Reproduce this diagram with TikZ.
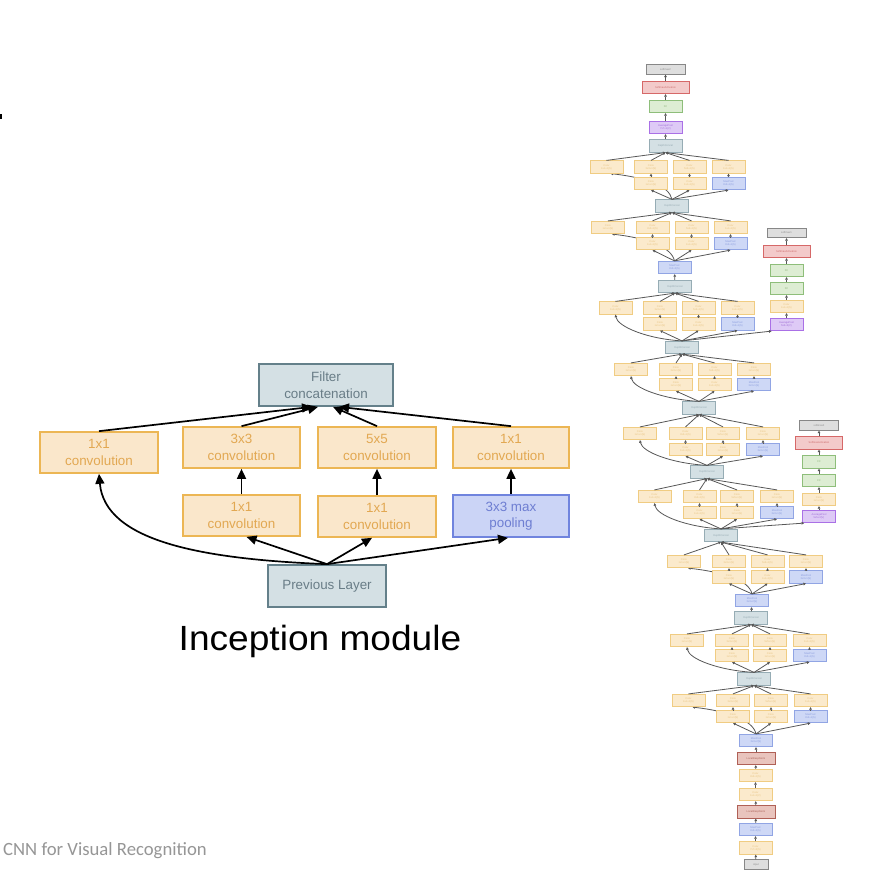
\documentclass[tikz,border=0pt]{standalone}
\usepackage{fontspec}
\newfontfamily\arialf{Liberation Sans}
\newfontfamily\calf{Carlito}
\usetikzlibrary{arrows.meta}
\pgfdeclarelayer{bg}
\pgfsetlayers{bg,main}
% left (large) module colours
\definecolor{convb}{RGB}{236,182,84}
\definecolor{convf}{RGB}{250,231,203}
\definecolor{convt}{RGB}{226,168,82}
\definecolor{poolb}{RGB}{112,132,222}
\definecolor{poolf}{RGB}{203,212,246}
\definecolor{poolt}{RGB}{110,126,210}
\definecolor{catb}{RGB}{100,128,138}
\definecolor{catf}{RGB}{212,224,228}
\definecolor{catt}{RGB}{105,125,135}
% right (small) network colours
\definecolor{sconvb}{RGB}{240,204,130}
\definecolor{sconvf}{RGB}{251,234,204}
\definecolor{sconvt}{RGB}{232,196,130}
\definecolor{spoolb}{RGB}{145,165,228}
\definecolor{spoolf}{RGB}{206,216,246}
\definecolor{spoolt}{RGB}{140,158,222}
\definecolor{scatb}{RGB}{150,172,180}
\definecolor{scatf}{RGB}{212,224,228}
\definecolor{scatt}{RGB}{150,170,178}
\definecolor{ssmb}{RGB}{135,135,135}
\definecolor{ssmf}{RGB}{222,222,222}
\definecolor{ssmt}{RGB}{140,140,140}
\definecolor{ssmab}{RGB}{214,104,104}
\definecolor{ssmaf}{RGB}{243,202,202}
\definecolor{ssmat}{RGB}{205,110,110}
\definecolor{sfcb}{RGB}{142,190,122}
\definecolor{sfcf}{RGB}{221,237,211}
\definecolor{sfct}{RGB}{140,180,120}
\definecolor{sapb}{RGB}{170,112,230}
\definecolor{sapf}{RGB}{222,202,246}
\definecolor{sapt}{RGB}{160,110,215}
\definecolor{slrnb}{RGB}{176,96,86}
\definecolor{slrnf}{RGB}{233,196,189}
\definecolor{slrnt}{RGB}{170,100,90}
\definecolor{footgray}{RGB}{150,150,150}
\tikzset{
  lb/.style={draw, line width=1.7pt, minimum width=117pt, minimum height=41pt, inner sep=0pt, align=center, font=\arialf\fontsize{13.4}{16.5}\selectfont},
  lconv/.style={lb, draw=convb, fill=convf, text=convt},
  lpool/.style={lb, draw=poolb, fill=poolf, text=poolt},
  lcat/.style={lb, draw=catb, fill=catf, text=catt},
  larr/.style={draw=black, line width=1.7pt, -{Triangle[length=10pt,width=9pt]}},
  sb/.style={draw, line width=0.7pt, minimum width=33pt, minimum height=12.5pt, inner sep=0pt, align=center, font=\arialf\fontsize{2.6}{3.1}\selectfont},
  sconv/.style={sb, draw=sconvb, fill=sconvf, text=sconvt},
  spool/.style={sb, draw=spoolb, fill=spoolf, text=spoolt},
  scat/.style={sb, draw=scatb, fill=scatf, text=scatt},
  ssm/.style={sb, draw=ssmb, fill=ssmf, text=ssmt, minimum width=39pt, minimum height=9.5pt},
  ssma/.style={sb, draw=ssmab, fill=ssmaf, text=ssmat, minimum width=47pt},
  sfc/.style={sb, draw=sfcb, fill=sfcf, text=sfct},
  sap/.style={sb, draw=sapb, fill=sapf, text=sapt},
  slrn/.style={sb, draw=slrnb, fill=slrnf, text=slrnt, minimum width=38pt},
  sarr/.style={draw=black!66, line width=0.8pt, -{Triangle[length=2.6pt,width=2.6pt]}},
}
% #1 prefix, #2 source, #3 concat, #4 y row1, #5 y row2, #6-#9 x of the four columns
\newcommand{\incmod}[9]{%
  \node[sconv] (#1a) at (#6,#4) {Conv\\1x1+1(S)};
  \node[sconv] (#1b) at (#7,#4) {Conv\\3x3+1(S)};
  \node[sconv] (#1c) at (#8,#4) {Conv\\5x5+1(S)};
  \node[sconv] (#1d) at (#9,#4) {Conv\\1x1+1(S)};
  \node[sconv] (#1e) at (#7,#5) {Conv\\1x1+1(S)};
  \node[sconv] (#1f) at (#8,#5) {Conv\\1x1+1(S)};
  \node[spool] (#1g) at (#9,#5) {MaxPool\\3x3+1(S)};
  \draw[sarr] (#2.north) -- (#1e.south);
  \draw[sarr] (#2.north) -- (#1f.south);
  \draw[sarr] (#2.north) -- (#1g.south);
  \draw[sarr] (#1e) -- (#1b);
  \draw[sarr] (#1f) -- (#1c);
  \draw[sarr] (#1g) -- (#1d);
  \draw[sarr] (#1a.north) -- (#3.south);
  \draw[sarr] (#1b.north) -- (#3.south);
  \draw[sarr] (#1c.north) -- (#3.south);
  \draw[sarr] (#1d.north) -- (#3.south);
}
% wide branch curve (source well below the rows)
\newcommand{\widecurve}[2]{%
  \draw[sarr] (#1.north) .. controls +(-35,-2) and +(2,12) .. (#2.south);}
% tight branch curve (runs behind the second-row box)
\newcommand{\tightcurve}[2]{%
  \begin{pgfonlayer}{bg}
  \draw[sarr] (#1.north) .. controls +(-3,-14) and +(35,4) .. ([xshift=4pt]#2.south);
  \end{pgfonlayer}}
\begin{document}
\begin{tikzpicture}[x=1pt,y=-1pt]
\begin{pgfonlayer}{bg}
\fill[white] (0,0) rectangle (896,896);
\end{pgfonlayer}
\useasboundingbox (0,0) rectangle (896,896);
\fill[black] (0,114) rectangle (2,119);

% ---------------- Inception module (left) ----------------
\node[lcat, minimum width=134pt, minimum height=42pt] (cat) at (326,385) {Filter\\concatenation};
\node[lconv, minimum width=118pt] (l1) at (99,452.5) {1x1\\convolution};
\node[lconv] (l2) at (241.5,447.5) {3x3\\convolution};
\node[lconv, minimum width=118pt] (l3) at (377,447.5) {5x5\\convolution};
\node[lconv, minimum width=116pt] (l4) at (511,447.5) {1x1\\convolution};
\node[lconv] (r2) at (241.5,515.5) {1x1\\convolution};
\node[lconv, minimum width=118pt] (r3) at (377,516.5) {1x1\\convolution};
\node[lpool, minimum width=116pt, minimum height=42pt] (r4) at (511,516) {3x3 max\\pooling};
\node[lcat, minimum width=118pt, minimum height=42pt] (prev) at (327,586) {Previous Layer};

\draw[larr] (l1.north) -- ([xshift=-14pt]cat.south);
\draw[larr] (l2.north) -- ([xshift=-8pt]cat.south);
\draw[larr] (l3.north) -- ([xshift=7pt]cat.south);
\draw[larr] (l4.north) -- ([xshift=13pt]cat.south);
\draw[larr] (r2) -- (l2);
\draw[larr] (r3) -- (l3);
\draw[larr] (r4) -- (l4);
\draw[larr] (prev.north) .. controls +(-127,-5) and +(6,67) .. (l1.south);
\draw[larr] (prev.north) -- ([xshift=5pt]r2.south);
\draw[larr] (prev.north) -- ([xshift=-5pt]r3.south);
\draw[larr] (prev.north) -- ([xshift=-3pt]r4.south);

\node[anchor=base, font=\arialf\fontsize{35}{40}\selectfont] (title) at (320,650) {\scalebox{1.06}[1]{Inception module}};
\node[anchor=base west, inner sep=0pt, text=footgray, font=\calf\fontsize{18.7}{22}\selectfont] (foot) at (3,855) {CNN for Visual Recognition};

% ---------------- GoogLeNet (right) ----------------
% main output stack
\node[ssm] (sm2) at (665.5,69.5) {softmax2};
\node[ssma] (sma2) at (665.5,87.5) {SoftmaxActivation};
\node[sfc] (fc2) at (665.5,106.5) {FC};
\node[sap] (ap2) at (665.5,127.5) {AveragePool\\7x7+1(V)};
\node[scat] (d5b) at (665.5,146) {DepthConcat};
% trunk nodes
\node[scat] (d5a) at (672,206) {DepthConcat};
\node[spool] (mp4) at (674.5,267.5) {MaxPool\\3x3+2(S)};
\node[scat] (d4e) at (675,286.5) {DepthConcat};
\node[scat] (d4d) at (682,347.5) {DepthConcat};
\node[scat] (d4c) at (699,408) {DepthConcat};
\node[scat] (d4b) at (707,472) {DepthConcat};
\node[scat] (d4a) at (721,535.5) {DepthConcat};
\node[spool] (mp3) at (752,600.5) {MaxPool\\3x3+2(S)};
\node[scat] (d3b) at (751,618) {DepthConcat};
\node[scat] (d3a) at (754,679) {DepthConcat};
\node[spool] (mp2) at (756,740.5) {MaxPool\\3x3+2(S)};
\node[slrn] (lrn2) at (756,758.5) {LocalRespNorm};
\node[sconv] (c2b) at (755.5,775.5) {Conv\\3x3+1(S)};
\node[sconv] (c2a) at (755.5,794.5) {Conv\\1x1+1(V)};
\node[slrn] (lrn1) at (756,812) {LocalRespNorm};
\node[spool] (mp1) at (755.5,829.5) {MaxPool\\3x3+2(S)};
\node[sconv] (c1) at (755.5,848) {Conv\\7x7+2(S)};
\node[ssm, minimum width=24pt] (inp) at (756,864.5) {input};

% inception modules
\incmod{m5b}{d5a}{d5b}{167}{183.5}{606.5}{651}{689.5}{728.5}
\tightcurve{d5a}{m5ba}
\incmod{m5a}{mp4}{d5a}{227.5}{243.5}{608}{652.5}{691.5}{730.5}
\tightcurve{mp4}{m5aa}
\incmod{m4e}{d4d}{d4e}{308}{324}{615.5}{660}{698.5}{737.5}
\widecurve{d4d}{m4ea}
\incmod{m4d}{d4c}{d4d}{369.5}{384.5}{631}{676}{714.5}{754}
\widecurve{d4c}{m4da}
\incmod{m4c}{d4b}{d4c}{433.5}{449.5}{640}{685.5}{723}{763}
\widecurve{d4b}{m4ca}
\incmod{m4b}{d4a}{d4b}{496.5}{512.5}{654.5}{699.5}{737}{777}
\widecurve{d4a}{m4ba}
\incmod{m4a}{mp3}{d4a}{561.5}{577}{684}{729}{767.5}{806}
\tightcurve{mp3}{m4aa}
\incmod{m3b}{d3a}{d3b}{640.5}{655.5}{687}{732}{770}{809.5}
\widecurve{d3a}{m3ba}
\incmod{m3a}{mp2}{d3a}{700.5}{716.5}{688.5}{733}{771}{810.5}
\tightcurve{mp2}{m3aa}

% trunk arrows
\draw[sarr] (inp) -- (c1);
\draw[sarr] (c1) -- (mp1);
\draw[sarr] (mp1) -- (lrn1);
\draw[sarr] (lrn1) -- (c2a);
\draw[sarr] (c2a) -- (c2b);
\draw[sarr] (c2b) -- (lrn2);
\draw[sarr] (lrn2) -- (mp2);
\draw[sarr] (d3b) -- (mp3);
\draw[sarr] (d4e) -- (mp4);
\draw[sarr] (d5b) -- (ap2);
\draw[sarr] (ap2) -- (fc2);
\draw[sarr] (fc2) -- (sma2);
\draw[sarr] (sma2) -- (sm2);

% auxiliary classifier (upper)
\node[ssm] (sm1) at (786.5,233) {softmax1};
\node[ssma] (sma1) at (786.5,251.5) {SoftmaxActivation};
\node[sfc] (fc1b) at (786.5,270.5) {FC};
\node[sfc] (fc1a) at (786.5,288.5) {FC};
\node[sconv] (cv1) at (786.5,306.5) {Conv\\1x1+1(S)};
\node[sap] (ap1) at (786.5,324.5) {AveragePool\\5x5+3(V)};
\draw[sarr] (d4d.north) -- ([xshift=2pt]ap1.south west);
\draw[sarr] (ap1) -- (cv1);
\draw[sarr] (cv1) -- (fc1a);
\draw[sarr] (fc1a) -- (fc1b);
\draw[sarr] (fc1b) -- (sma1);
\draw[sarr] (sma1) -- (sm1);

% auxiliary classifier (lower)
\node[ssm] (sm0) at (819,425.5) {softmax0};
\node[ssma] (sma0) at (819,443) {SoftmaxActivation};
\node[sfc] (fc0b) at (819,462) {FC};
\node[sfc] (fc0a) at (819,480.5) {FC};
\node[sconv] (cv0) at (819,499.5) {Conv\\1x1+1(S)};
\node[sap] (ap0) at (819,516.5) {AveragePool\\5x5+3(V)};
\draw[sarr] (d4a.north) -- ([xshift=2pt]ap0.south west);
\draw[sarr] (ap0) -- (cv0);
\draw[sarr] (cv0) -- (fc0a);
\draw[sarr] (fc0a) -- (fc0b);
\draw[sarr] (fc0b) -- (sma0);
\draw[sarr] (sma0) -- (sm0);
\end{tikzpicture}
\end{document}
